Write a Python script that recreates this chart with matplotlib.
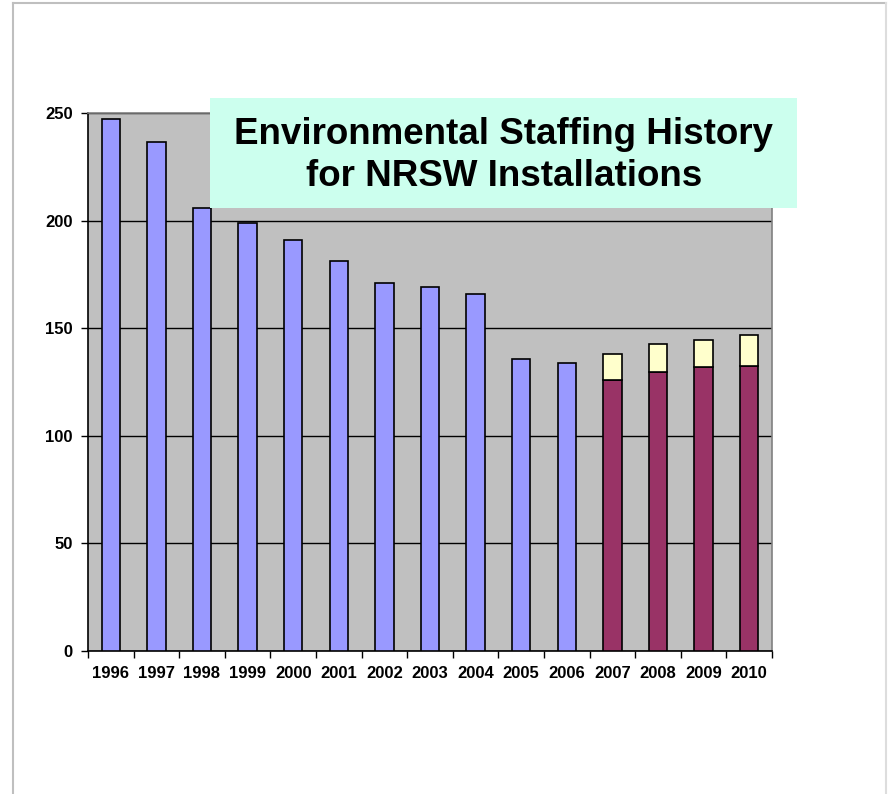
import matplotlib.pyplot as plt
import numpy as np
from matplotlib.patches import Rectangle

plt.rcParams['font.family'] = ['Liberation Sans', 'DejaVu Sans']

# Data
years = ["1996", "1997", "1998", "1999", "2000", "2001", "2002", "2003",
         "2004", "2005", "2006", "2007", "2008", "2009", "2010"]
staff_actual = [247, 236.5, 206, 199, 191, 181, 171, 169, 166, 135.5, 134,
                None, None, None, None]
staff_base = [None] * 11 + [126, 129.5, 132, 132.5]
staff_added = [None] * 11 + [12, 13.2, 12.6, 14.5]

y_ticks = [0, 50, 100, 150, 200, 250]

fig = plt.figure(figsize=(8.89, 7.94), dpi=100)
fig.patch.set_facecolor("white")

# light frame around the slide
fig.add_artist(plt.Line2D([12.5 / 889, 12.5 / 889], [0, 1 - 2.5 / 794], color="#BFBFBF", lw=1.5))
fig.add_artist(plt.Line2D([12.5 / 889, 886 / 889], [1 - 2.5 / 794, 1 - 2.5 / 794], color="#BFBFBF", lw=1.5))
fig.add_artist(plt.Line2D([886 / 889, 886 / 889], [0, 1 - 2.5 / 794], color="#DDDDDD", lw=1.5))

ax = fig.add_axes([88 / 889, 1 - 651 / 794, (772 - 88) / 889, (651 - 113) / 794])
ax.set_facecolor("#C0C0C0")

x = np.arange(len(years))
w = 0.4

blue_x = [i for i, v in enumerate(staff_actual) if v is not None]
blue_v = [v for v in staff_actual if v is not None]
ax.bar(blue_x, blue_v, width=w, color="#9999FF", edgecolor="black", linewidth=1.2, zorder=3)

st_x = [i for i, v in enumerate(staff_base) if v is not None]
base_v = [v for v in staff_base if v is not None]
add_v = [v for v in staff_added if v is not None]
ax.bar(st_x, base_v, width=w, color="#993366", edgecolor="black", linewidth=1.2, zorder=3)
ax.bar(st_x, add_v, bottom=base_v, width=w, color="#FFFFCC", edgecolor="black", linewidth=1.2, zorder=3)

ax.set_xlim(-0.5, len(years) - 0.5)
ax.set_ylim(0, 250)
ax.set_yticks(y_ticks)
ax.set_yticklabels([str(t) for t in y_ticks], fontsize=12, fontweight="bold")
ax.yaxis.grid(True, color="black", linewidth=1.0, zorder=1)
ax.set_axisbelow(True)

ax.set_xticks(x)
ax.set_xticklabels(years, fontsize=12, fontweight="bold")
ax.tick_params(axis="x", length=0, pad=11)
ax.set_xticks(np.arange(-0.5, len(years)), minor=True)
ax.tick_params(axis="x", which="minor", length=5, width=1, color="black", direction="out")
ax.tick_params(axis="y", length=5, width=1, direction="out", pad=6)

for side in ["top", "right"]:
    ax.spines[side].set_color("#808080")
    ax.spines[side].set_linewidth(1.2)
for side in ["left", "bottom"]:
    ax.spines[side].set_color("black")
    ax.spines[side].set_linewidth(1.2)

# title box
box = Rectangle((210 / 889, 1 - 208 / 794), (797 - 210) / 889, (208 - 98) / 794,
                transform=fig.transFigure, facecolor="#CCFFEE", edgecolor="none", zorder=5)
fig.add_artist(box)
fig.text(504 / 889, 1 - 134 / 794, "Environmental Staffing History",
         ha="center", va="center", fontsize=26.5, fontweight="bold", zorder=6)
fig.text(504 / 889, 1 - 176 / 794, "for NRSW Installations",
         ha="center", va="center", fontsize=26.5, fontweight="bold", zorder=6)

plt.savefig("out.png", dpi=100)
